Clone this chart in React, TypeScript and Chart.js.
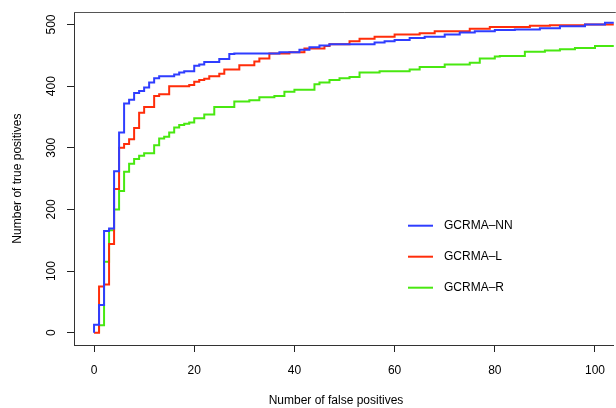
import React, { useEffect, useRef } from "react";
import { Chart, registerables } from "chart.js";

Chart.register(...registerables);

// ---- Data ----
const seriesLabels = ["GCRMA\u2013NN", "GCRMA\u2013L", "GCRMA\u2013R"];
const seriesColors = ["#2f3dff", "#ff2d0a", "#48e810"];

const nnX = [0, 0, 1, 2, 3, 4, 5, 6, 7, 8, 9, 10, 11, 12, 13, 16, 17, 18, 20, 21, 22, 25, 27, 28, 37, 41, 43, 45, 47, 56, 58, 60, 63, 66, 70, 73, 76, 80, 84, 89, 93, 98, 102, 104];
const nnY = [0, 13, 45, 165, 169, 262, 325, 372, 378, 389, 392, 398, 406, 413, 416, 419, 422, 424, 433, 435, 439, 444, 452, 453, 455, 459, 463, 466, 468, 471, 473, 475, 478, 480, 484, 487, 489, 491, 492, 494, 497, 500, 503, 503];

const lX = [0, 1, 2, 3, 4, 5, 6, 7, 8, 9, 10, 12, 13, 15, 19, 20, 21, 22, 23, 25, 26, 29, 32, 33, 35, 39, 42, 46, 47, 51, 53, 56, 60, 65, 68, 75, 79, 87, 91, 98, 104];
const lY = [0, 75, 78, 144, 233, 300, 306, 314, 332, 357, 366, 384, 387, 400, 402, 407, 410, 412, 416, 420, 427, 434, 440, 445, 453, 455, 461, 465, 468, 473, 477, 480, 484, 486, 489, 493, 496, 498, 499, 500, 500];

const rX = [1, 1, 2, 3, 4, 5, 6, 7, 8, 9, 10, 12, 13, 14, 15, 16, 17, 18, 19, 20, 22, 24, 28, 31, 33, 36, 38, 40, 44, 45, 47, 49, 51, 53, 57, 63, 65, 70, 75, 77, 80, 81, 86, 90, 93, 96, 100, 104];
const rY = [0, 12, 115, 166, 200, 230, 261, 274, 282, 287, 291, 304, 315, 318, 325, 333, 337, 339, 341, 348, 354, 366, 375, 377, 382, 384, 391, 394, 403, 406, 410, 413, 415, 422, 424, 427, 431, 435, 438, 445, 448, 449, 456, 458, 460, 462, 465, 467];

const xTicks = [0, 20, 40, 60, 80, 100];
const yTicks = [0, 100, 200, 300, 400, 500];
const xTitle = "Number of false positives";
const yTitle = "Number of true positives";

const FONT = "'Liberation Sans', Arial, Helvetica, sans-serif";

const toPoints = (xs: number[], ys: number[]) => xs.map((x, i) => ({ x, y: ys[i] }));

const framePlugin = {
  id: "frameAndExtras",
  afterDraw(chart: any) {
    const ctx = chart.ctx as CanvasRenderingContext2D;
    const a = chart.chartArea;
    ctx.save();
    // box top and right
    ctx.strokeStyle = "#555";
    ctx.lineWidth = 1;
    ctx.beginPath();
    ctx.moveTo(a.left, Math.round(a.top) + 0.5);
    ctx.lineTo(a.right + 2, Math.round(a.top) + 0.5);
    ctx.stroke();

    // axis titles
    ctx.fillStyle = "#000";
    ctx.font = `12px ${FONT}`;
    ctx.textAlign = "center";
    ctx.textBaseline = "middle";
    ctx.fillText(xTitle, 336, 401);
    ctx.save();
    ctx.translate(18, (a.top + a.bottom) / 2);
    ctx.rotate(-Math.PI / 2);
    ctx.fillText(yTitle, 0, 0);
    ctx.restore();

    // legend
    const ys = [225.7, 256.7, 287.7];
    chart.data.datasets.forEach((ds: any, i: number) => {
      ctx.strokeStyle = ds.borderColor;
      ctx.lineWidth = 2;
      ctx.beginPath();
      ctx.moveTo(408, ys[i]);
      ctx.lineTo(433, ys[i]);
      ctx.stroke();
      ctx.fillStyle = "#000";
      ctx.textAlign = "left";
      ctx.fillText(ds.label, 444, ys[i]);
    });
    ctx.restore();
  },
};

export default function App() {
  const ref = useRef<HTMLCanvasElement>(null);
  useEffect(() => {
    if (!ref.current) return;
    const chart = new Chart(ref.current, {
      type: "line",
      data: {
        datasets: [
          { label: seriesLabels[0], data: toPoints(nnX, nnY), borderColor: seriesColors[0] },
          { label: seriesLabels[1], data: toPoints(lX, lY), borderColor: seriesColors[1] },
          { label: seriesLabels[2], data: toPoints(rX, rY), borderColor: seriesColors[2] },
        ].map((d) => ({ ...d, borderWidth: 2, pointRadius: 0, stepped: true, fill: false, backgroundColor: d.borderColor })),
      },
      options: {
        animation: false,
        responsive: false,
        devicePixelRatio: 1,
        layout: { padding: { top: 12, left: 0, right: 0, bottom: 0 } },
        plugins: { legend: { display: false }, tooltip: { enabled: false } },
        scales: {
          x: {
            type: "linear",
            min: -4,
            max: 103.75,
            afterBuildTicks: (s: any) => { s.ticks = xTicks.map((v) => ({ value: v })); },
            afterFit: (s: any) => { s.height = 63; },
            grid: { drawOnChartArea: false, drawTicks: true, tickLength: 7, color: "#222" },
            border: { display: true, color: "#333", width: 1 },
            ticks: { font: { size: 12, family: FONT }, color: "#000", padding: 11, maxRotation: 0, autoSkip: false },
          },
          y: {
            type: "linear",
            min: -20,
            max: 520,
            afterBuildTicks: (s: any) => { s.ticks = yTicks.map((v) => ({ value: v })); },
            afterFit: (s: any) => { s.width = 74; },
            grid: { drawOnChartArea: false, drawTicks: true, tickLength: 7, color: "#222" },
            border: { display: true, color: "#333", width: 1 },
            ticks: { font: { size: 12, family: FONT }, color: "#000", padding: 5, minRotation: 90, maxRotation: 90, crossAlign: "center", autoSkip: false },
          },
        },
      },
      plugins: [framePlugin],
    });
    return () => chart.destroy();
  }, []);
  return (
    <div style={{ position: "fixed", left: 0, top: 0, width: 616, height: 408, background: "#fff" }}>
      <canvas ref={ref} width={616} height={408} style={{ display: "block" }} />
    </div>
  );
}
